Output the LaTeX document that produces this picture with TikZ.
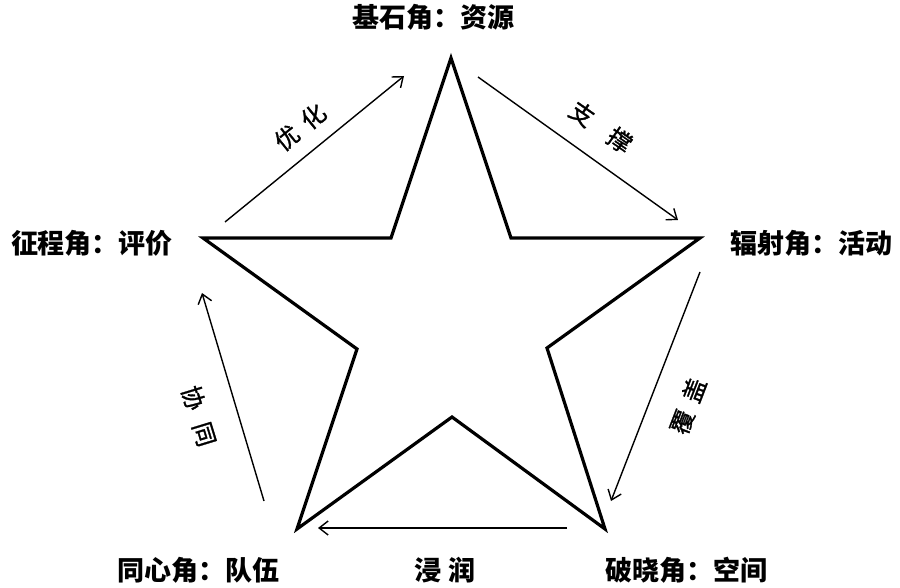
\documentclass[tikz,border=0pt]{standalone}
\usepackage{fontspec}
\newfontfamily\cjk{Noto Sans CJK SC}
\newfontfamily\cjkm{Noto Sans CJK SC}[FakeBold=1.2]
\usetikzlibrary{arrows.meta}
\begin{document}
\begin{tikzpicture}[x=1pt,y=-1pt,
  starline/.style={line width=3.2pt,line join=miter,black},
  flow/.style={line width=1.4pt,-{Straight Barb[length=9pt,width=14pt,line width=1.4pt]}},
  corner/.style={font=\cjk\bfseries\fontsize{27}{27}\selectfont,inner sep=0pt},
  flowlabel/.style={font=\cjkm\fontsize{24}{24}\selectfont,inner sep=0pt}]
\useasboundingbox (0,0) rectangle (900,588);
% star vertices
\coordinate (T) at (451,58);
\coordinate (R) at (700,238);
\coordinate (BR) at (605,529);
\coordinate (BL) at (297,529);
\coordinate (L) at (203,238);
\coordinate (iTR) at (511,238);
\coordinate (iR) at (547,348);
\coordinate (iB) at (452,417);
\coordinate (iL) at (357,349);
\coordinate (iTL) at (391,238);
\draw[starline] (T) -- (iTR) -- (R) -- (iR) -- (BR) -- (iB) -- (BL) -- (iL) -- (L) -- (iTL) -- cycle;
% corner labels
\node[corner] (top) at (433,17) {基石角：资源};
\node[corner] (right) at (811,243) {辐射角：活动};
\node[corner] (left) at (92,243) {征程角：评价};
\node[corner] (bl) at (198,570) {同心角：队伍};
\node[corner] (br) at (686,570) {破晓角：空间};
\node[corner] (jr) at (445,570) {浸\hspace{8pt}润};
% arrow endpoints
\coordinate (a1s) at (225,222); \coordinate (a1e) at (404,76);
\coordinate (a2s) at (478,77);  \coordinate (a2e) at (678,220);
\coordinate (a3s) at (700,272); \coordinate (a3e) at (611,501);
\coordinate (a4s) at (567,528); \coordinate (a4e) at (318,528);
\coordinate (a5s) at (264,501); \coordinate (a5e) at (202,293);
\draw[flow] (a1s) -- (a1e);
\draw[flow] (a2s) -- (a2e);
\draw[flow] (a3s) -- (a3e);
\draw[flow] (a4s) -- (a4e);
\draw[flow] (a5s) -- (a5e);
% arrow labels
\node[flowlabel,rotate=39] (l1) at (300,127) {优\hspace{10pt}化};
\node[flowlabel,rotate=-35] (l2) at (601,127) {支\hspace{22pt}撑};
\node[flowlabel,rotate=69] (l3) at (688,406) {覆\hspace{10pt}盖};
\node[flowlabel,rotate=-73] (l5) at (199,416) {协\hspace{14pt}同};
\end{tikzpicture}
\end{document}
